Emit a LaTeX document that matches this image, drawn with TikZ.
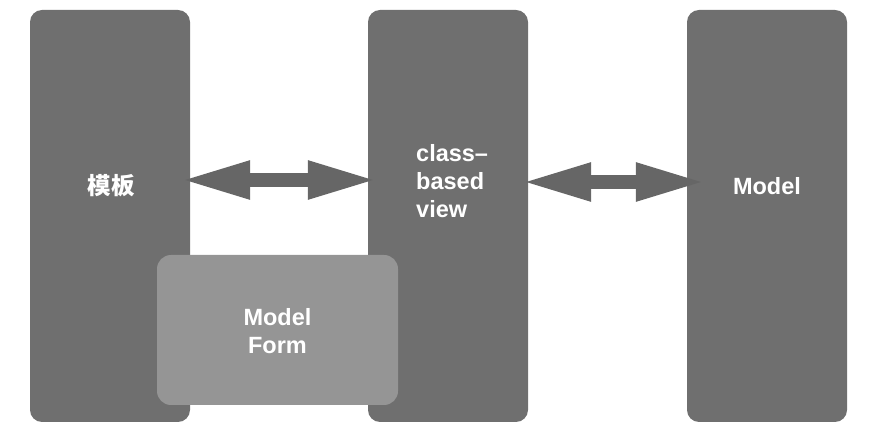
\documentclass[tikz,border=0pt]{standalone}
\usepackage{fontspec}
\setmainfont{Liberation Sans}
\newfontfamily\cjk{Noto Sans CJK SC}
\usepackage{tikz}
\usetikzlibrary{positioning, arrows.meta}

\definecolor{barGray}{HTML}{6F6F6F}
\definecolor{formGray}{HTML}{959595}
\definecolor{arrowGray}{HTML}{666666}

\begin{document}
\begin{tikzpicture}[x=1pt,y=-1pt,
    bar/.style={fill=barGray, rounded corners=12pt, minimum width=160pt, minimum height=412pt, inner sep=0pt},
    formbox/.style={fill=formGray, rounded corners=14pt, minimum width=241pt, minimum height=150pt, inner sep=0pt},
    lbl/.style={text=white, font=\bfseries\fontsize{23.5}{28}\selectfont},
    dblarrow/.style={draw=arrowGray, line width=14pt, {Triangle[width=35pt,length=70pt]}-{Triangle[width=35pt,length=70pt]}}]
    \useasboundingbox (0,0) rectangle (879,438);

    % Define nodes
    \node[bar] (tmpl) at (110,216) {};
    \node[bar] (cbv) at (448,216) {};
    \node[bar] (mdl) at (767,216) {};
    \node[formbox] (form) at (277.5,330) {};

    % Labels
    \node[lbl] (tmplText) at (111,186) {\cjk 模板};
    \node[lbl, align=left, anchor=west, inner sep=0pt] (cbvText) at (416,181) {class–\\based\\view};
    \node[lbl] (mdlText) at (767,186) {Model};
    \node[lbl, align=center] (formText) at (277.5,331) {Model\\Form};

    % Draw arrows
    \draw[dblarrow] ([xshift=-10pt,yshift=36pt]tmpl.east) -- ([xshift=10pt,yshift=36pt]cbv.west);
    \draw[dblarrow] ([xshift=-7pt,yshift=34pt]cbv.east) -- ([xshift=19pt,yshift=34pt]mdl.west);
\end{tikzpicture}
\end{document}
